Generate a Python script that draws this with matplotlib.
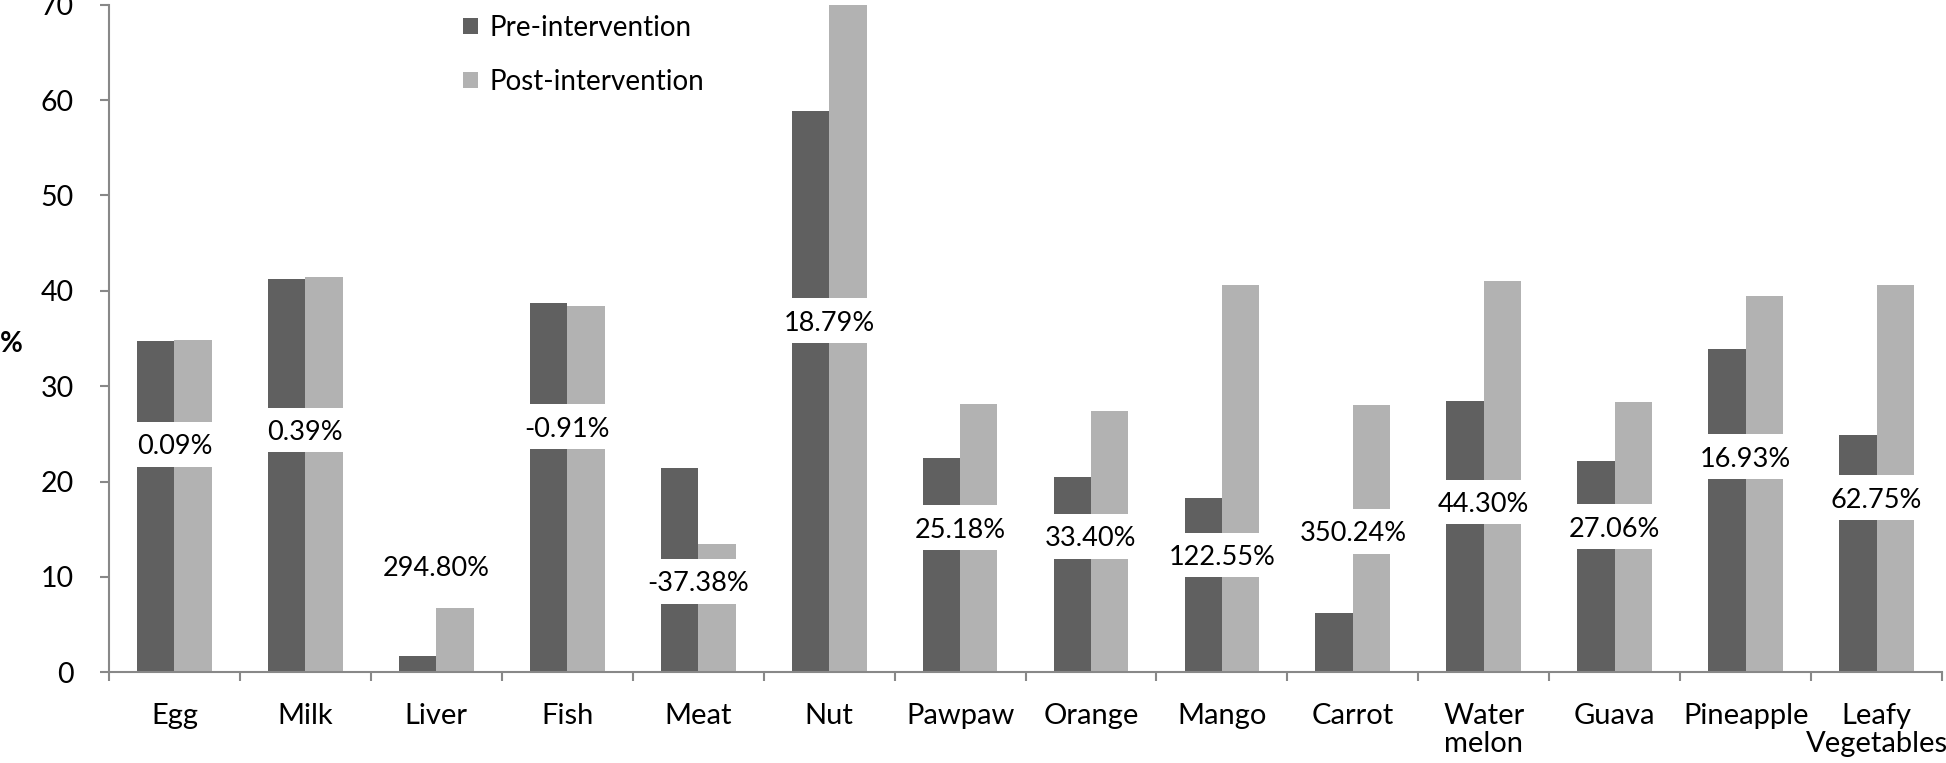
#!/usr/bin/env python3
"""Pre/post intervention consumption bar chart with % change labels."""

import numpy as np
import matplotlib
matplotlib.use('Agg')
import matplotlib.pyplot as plt
from matplotlib.patches import Rectangle

CATEGORIES = ['Egg', 'Milk', 'Liver', 'Fish', 'Meat', 'Nut', 'Pawpaw', 'Orange',
              'Mango', 'Carrot', 'Water\nmelon', 'Guava', 'Pineapple',
              'Leafy\nVegetables']
PRE = [34.7, 41.2, 1.7, 38.7, 21.4, 58.9, 22.45, 20.5, 18.25, 6.2, 28.4, 22.2,
       33.85, 24.9]
POST = [34.8, 41.4, 6.75, 38.4, 13.4, 70.0, 28.1, 27.4, 40.6, 28.0, 41.0, 28.3,
        39.5, 40.6]
CHANGE_LABELS = ['0.09%', '0.39%', '294.80%', '-0.91%', '-37.38%', '18.79%',
                 '25.18%', '33.40%', '122.55%', '350.24%', '44.30%', '27.06%',
                 '16.93%', '62.75%']
# vertical centre of each label box (data units)
LABEL_Y = [23.9, 25.4, 11.1, 25.75, 9.55, 36.85, 15.15, 14.25, 12.3, 14.8,
           17.85, 15.25, 22.6, 18.3]

DARK = '#606060'
LIGHT = '#b2b2b2'
AXIS_GREY = '#888888'
FONT = 'Lato'

plt.rcParams['font.family'] = [FONT, 'DejaVu Sans']

fig = plt.figure(figsize=(19.46, 7.63), dpi=100)
fig.patch.set_facecolor('white')
ax = fig.add_axes([0.056, 0.1189, 0.942, 0.875])

x = np.arange(len(CATEGORIES))
bw = 1 / 3.5
ax.bar(x - bw / 2, PRE, bw, color=DARK, zorder=2)
ax.bar(x + bw / 2, POST, bw, color=LIGHT, zorder=2)

# label boxes: white fill hides the bars behind the text
box_h = 4.7
box_w = 2 * bw + 0.04
for xi, ly, lab in zip(x, LABEL_Y, CHANGE_LABELS):
    ax.add_patch(Rectangle((xi - box_w / 2, ly - box_h / 2), box_w, box_h,
                           facecolor='white', edgecolor='none', zorder=3))
    ax.text(xi, ly, lab, ha='center', va='center_baseline', fontsize=19.5,
            color='black', zorder=4)

ax.set_xlim(-0.5, len(CATEGORIES) - 0.5)
ax.set_ylim(0, 70)
ax.set_yticks(range(0, 71, 10))
ax.tick_params(axis='y', direction='out', length=6.5, width=1.5,
               color=AXIS_GREY, labelsize=20.5, pad=19)

# category ticks sit on the boundaries, labels in the centres
ax.set_xticks(np.arange(-0.5, len(CATEGORIES), 1.0))
ax.set_xticklabels([])
ax.set_xticks(x, minor=True)
ax.set_xticklabels(CATEGORIES, minor=True, fontsize=21, linespacing=1.12)
ax.tick_params(axis='x', which='major', direction='out', length=6.5,
               width=1.5, color=AXIS_GREY)
ax.tick_params(axis='x', which='minor', length=0, pad=22)

for s in ['top', 'right']:
    ax.spines[s].set_visible(False)
for s in ['left', 'bottom']:
    ax.spines[s].set_color(AXIS_GREY)
    ax.spines[s].set_linewidth(1.5)

fig.text(0.0, 1 - 344 / 763, '%', fontsize=20, fontweight='bold',
         ha='left', va='center')

# legend drawn by hand
W, H = 1946, 763
for row, (col, name) in enumerate([(DARK, 'Pre-intervention'),
                                   (LIGHT, 'Post-intervention')]):
    cy = 26 + row * 54
    fig.patches.append(Rectangle((463 / W, 1 - (cy + 7.5) / H), 15 / W,
                                 15 / H, transform=fig.transFigure,
                                 facecolor=col, edgecolor='none'))
    fig.text(489 / W, 1 - cy / H, name, fontsize=20, ha='left',
             va='center_baseline')

fig.savefig('out.png', dpi=100, facecolor='white')
